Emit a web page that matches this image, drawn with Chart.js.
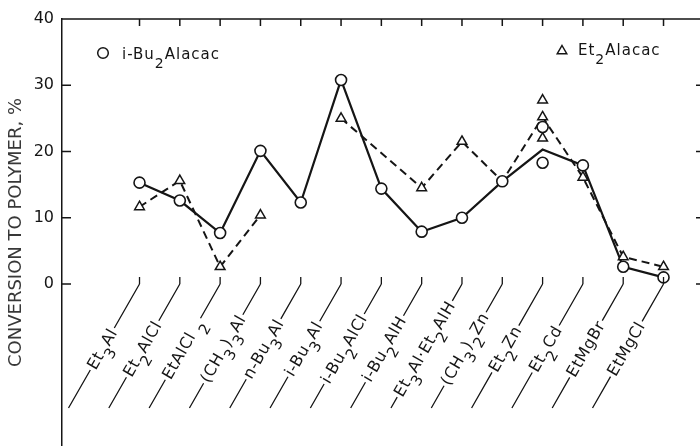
<!DOCTYPE html>
<html><head><meta charset="utf-8">
<script src="https://cdn.jsdelivr.net/npm/chart.js@4/dist/chart.umd.min.js"></script>
<style>html,body{margin:0;padding:0;background:#fff;overflow:hidden}#wrap{width:700px;height:446px;position:relative}canvas{display:block}</style>
</head><body><div id="wrap"><canvas id="c" width="700" height="446"></canvas></div>
<script>
// "_x" marks a subscript character
const categories = ['Et_3Al','Et_2AlCl','EtAlCl _2','(CH_3)_3Al','n-Bu_3Al','i-Bu_3Al','i-Bu_2AlCl','i-Bu_2AlH','Et_3Al·Et_2AlH','(CH_3)_2Zn','Et_2Zn','Et_2Cd','EtMgBr','EtMgCl'];
const yTicks = [0, 10, 20, 30, 40];

// i-Bu2Alacac (circles, solid line)
const solidLineValues = [15.3, 12.6, 7.7, 20.1, 12.3, 30.8, 14.4, 7.9, 10.0, 15.5, 20.3, 17.9, 2.6, 1.0];
const circleCats = ['Et_3Al','Et_2AlCl','EtAlCl _2','(CH_3)_3Al','n-Bu_3Al','i-Bu_3Al','i-Bu_2AlCl','i-Bu_2AlH','Et_3Al·Et_2AlH','(CH_3)_2Zn','Et_2Zn','Et_2Zn','Et_2Cd','EtMgBr','EtMgCl'];
const circleVals = [15.3, 12.6, 7.7, 20.1, 12.3, 30.8, 14.4, 7.9, 10.0, 15.5, 23.7, 18.3, 17.9, 2.6, 1.0];

// Et2Alacac (triangles, dashed line)
const dashedLineValues = [11.65, 15.6, 2.6, 10.4, null, 25.0, null, 14.5, 21.5, 15.5, 25.2, 16.1, 4.1, 2.6];
const dashedBreakAt = ['n-Bu_3Al'];
const triangleCats = ['Et_3Al','Et_2AlCl','EtAlCl _2','(CH_3)_3Al','i-Bu_3Al','i-Bu_2AlH','Et_3Al·Et_2AlH','Et_2Zn','Et_2Zn','Et_2Zn','Et_2Cd','EtMgBr','EtMgCl'];
const triangleVals = [11.65, 15.6, 2.6, 10.4, 25.0, 14.5, 21.5, 27.75, 25.2, 22.0, 16.1, 4.1, 2.6];

const legendLabels = ['i-Bu_2Alacac', 'Et_2Alacac'];
const axisTitle = 'CONVERSION TO POLYMER, %';

const idx = c => categories.indexOf(c);
const solidPts = solidLineValues.map((v, i) => ({x: i, y: v}));
const dashedPts = [];
dashedLineValues.forEach((v, i) => {
  if (v !== null) dashedPts.push({x: i, y: v});
  else if (dashedBreakAt.includes(categories[i])) dashedPts.push({x: i, y: null});
});
const circlePts = circleCats.map((c, k) => ({x: idx(c), y: circleVals[k]}));
const trianglePts = triangleCats.map((c, k) => ({x: idx(c), y: triangleVals[k]}));

function parseRich(s) {
  const segs = [];
  for (let i = 0; i < s.length; i++) {
    if (s[i] === '_' && i + 1 < s.length) { segs.push({t: s[i + 1], sub: true}); i++; }
    else {
      if (segs.length && !segs[segs.length - 1].sub) segs[segs.length - 1].t += s[i];
      else segs.push({t: s[i], sub: false});
    }
  }
  return segs;
}
function richWidth(ctx, s, font, subFont) {
  let w = 0;
  parseRich(s).forEach(g => { ctx.font = g.sub ? subFont : font; w += ctx.measureText(g.t).width; });
  return w;
}
function drawRich(ctx, s, x, y, font, subFont, subDy) {
  parseRich(s).forEach(g => {
    ctx.font = g.sub ? subFont : font;
    ctx.fillText(g.t, x, g.sub ? y + subDy : y);
    x += ctx.measureText(g.t).width;
  });
}

const INK = '#151515';
const framePlugin = {
  id: 'frame',
  afterDraw(chart) {
    const {ctx, chartArea: a, scales: {x, y}} = chart;
    ctx.save();
    ctx.strokeStyle = INK; ctx.lineWidth = 1.5; ctx.lineCap = 'butt';
    ctx.beginPath();
    ctx.moveTo(a.left, a.top); ctx.lineTo(a.right, a.top);
    categories.forEach((c, i) => { const px = x.getPixelForValue(i); ctx.moveTo(px, a.top); ctx.lineTo(px, a.top + 7); });
    yTicks.forEach(v => { const py = y.getPixelForValue(v); ctx.moveTo(a.left, py); ctx.lineTo(a.left + 9, py); });
    yTicks.forEach(v => { if (v < 40) { const py = y.getPixelForValue(v); ctx.moveTo(a.right, py); ctx.lineTo(a.right - 4, py); } });
    ctx.stroke();

    // category labels with leader lines
    const y0 = y.getPixelForValue(0);
    const dx = 71, dy = 124, L = Math.hypot(dx, dy), ang = Math.atan2(dy, dx);
    const font = '16px "DejaVu Sans"', subFont = '15px "DejaVu Sans"';
    ctx.fillStyle = INK; ctx.lineWidth = 1.3;
    ctx.letterSpacing = '0.6px';
    categories.forEach((c, i) => {
      const px = x.getPixelForValue(i);
      ctx.beginPath(); ctx.moveTo(px, y0 - 7); ctx.lineTo(px, y0); ctx.stroke();
      ctx.save();
      ctx.translate(px - dx, y0 + dy); ctx.rotate(-ang);
      const w = richWidth(ctx, c, font, subFont);
      const s = Math.max(6, 68 - w / 2);
      ctx.beginPath();
      ctx.moveTo(0, 0); ctx.lineTo(s - 2, 0);
      ctx.moveTo(s + w + 2, 0); ctx.lineTo(L, 0);
      ctx.stroke();
      ctx.textBaseline = 'alphabetic';
      drawRich(ctx, c, s, 5, font, subFont, 9);
      ctx.restore();
    });

    // legend
    ctx.lineWidth = 1.5;
    ctx.fillStyle = '#fff';
    ctx.beginPath(); ctx.arc(103, 53, 5.3, 0, Math.PI * 2); ctx.fill(); ctx.stroke();
    const tr = 5.5, tx = 562, ty = 51;
    ctx.beginPath();
    ctx.moveTo(tx, ty - tr); ctx.lineTo(tx + 0.866 * tr, ty + 0.5 * tr); ctx.lineTo(tx - 0.866 * tr, ty + 0.5 * tr); ctx.closePath();
    ctx.fill(); ctx.stroke();
    ctx.fillStyle = INK;
    ctx.letterSpacing = '1px';
    const lf = '15px "DejaVu Sans"', lsf = '14px "DejaVu Sans"';
    drawRich(ctx, legendLabels[0], 122, 59, lf, lsf, 9);
    drawRich(ctx, legendLabels[1], 578, 55, lf, lsf, 9);
    ctx.restore();
  }
};

new Chart(document.getElementById('c'), {
  type: 'scatter',
  data: {
    datasets: [
      {label: 'i-Bu2Alacac markers', data: circlePts, showLine: false, order: 0,
       pointStyle: 'circle', pointRadius: 5.5, pointBorderWidth: 1.6, pointBackgroundColor: '#fff', pointBorderColor: INK},
      {label: 'Et2Alacac markers', data: trianglePts, showLine: false, order: 1,
       pointStyle: 'triangle', pointRadius: 5.6, pointBorderWidth: 1.5, pointBackgroundColor: '#fff', pointBorderColor: INK},
      {label: 'i-Bu2Alacac', data: solidPts, showLine: true, order: 2, pointRadius: 0,
       borderColor: INK, borderWidth: 2.2, tension: 0},
      {label: 'Et2Alacac', data: dashedPts, showLine: true, order: 3, pointRadius: 0, spanGaps: false,
       borderColor: INK, borderWidth: 2, borderDash: [8, 5], tension: 0}
    ]
  },
  options: {
    responsive: false, devicePixelRatio: 1, animation: false,
    layout: {padding: {top: 19, left: 0, right: 0, bottom: 0}, autoPadding: false},
    plugins: {legend: {display: false}, tooltip: {enabled: false}},
    scales: {
      x: {type: 'linear', display: false, min: -1.923, max: 13.905},
      y: {
        type: 'linear', min: -24.45, max: 40,
        afterBuildTicks: s => { s.ticks = yTicks.map(v => ({value: v})); },
        afterFit: s => { s.width = 62; s.paddingTop = 0; s.paddingBottom = 0; },
        grid: {display: false, drawTicks: false},
        border: {display: true, color: INK, width: 1.5},
        ticks: {padding: 8, color: INK, font: {family: 'DejaVu Sans', size: 16}},
        title: {display: true, text: axisTitle, color: '#383838', padding: {top: 6, bottom: 0},
                font: {family: 'DejaVu Sans', size: 18}}
      }
    }
  },
  plugins: [framePlugin]
});
</script></body></html>
